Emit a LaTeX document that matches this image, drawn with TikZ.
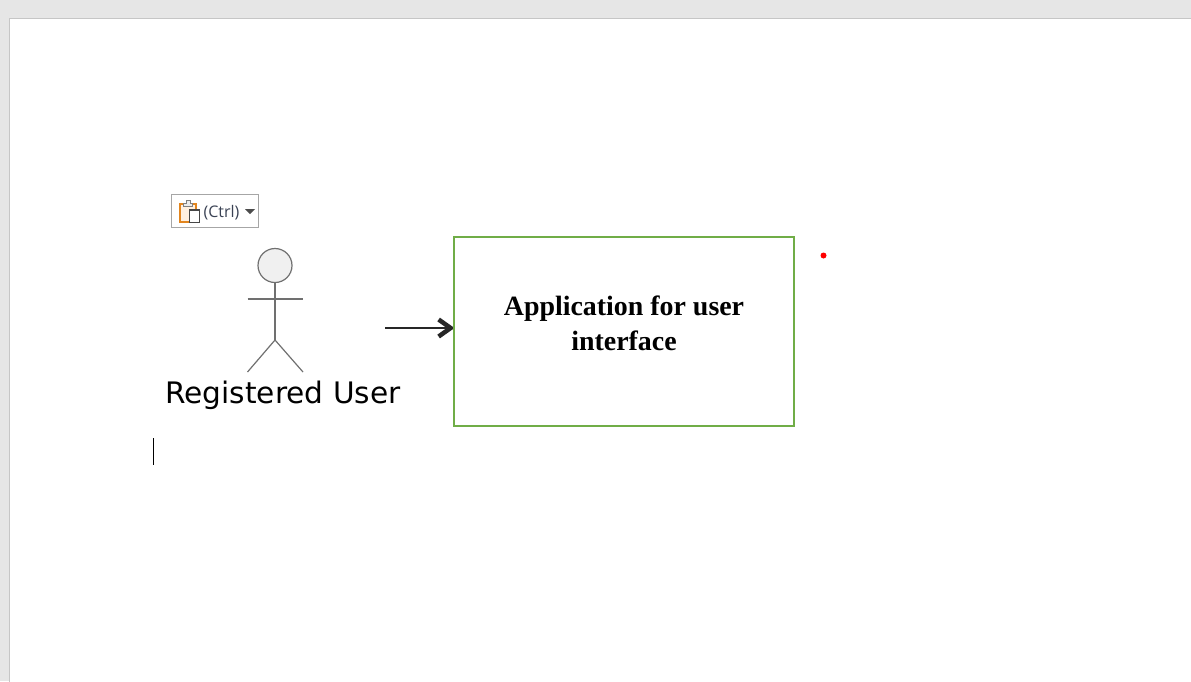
\documentclass[tikz,border=0pt]{standalone}
\usepackage{fontspec}
\setmainfont{Liberation Serif}
\newfontfamily\actorfont{DejaVu Sans}
\newfontfamily\pastefont{Open Sans}
\usetikzlibrary{arrows.meta, positioning}
\definecolor{pagegray}{RGB}{230,230,230}
\definecolor{pageedge}{RGB}{198,198,198}
\definecolor{boxgreen}{RGB}{112,173,71}
\definecolor{actorgray}{RGB}{112,112,112}
\definecolor{iconorange}{RGB}{226,133,30}
\definecolor{ctrlblue}{RGB}{58,66,84}

\begin{document}
\begin{tikzpicture}[x=1pt, y=-1pt]
    \tikzstyle{limb} = [draw=actorgray, line width=1.2pt];
    \tikzstyle{appbox} = [shape=rectangle, draw=boxgreen, line width=1.6pt, minimum width=340pt, minimum height=189pt, inner sep=0pt];

    \useasboundingbox (0,0) rectangle (1191,681);
    \fill[pagegray] (0,0) rectangle (1191,681);
    \fill[white, draw=pageedge, line width=1pt] (9.5,18.5) rectangle (1195,690);

    % paste button
    \node[draw=black!35, fill=white, line width=1pt, minimum width=87pt, minimum height=33pt, inner sep=0pt](Paste) at (215,211) {};
    \node[font=\pastefont\fontsize{16}{18}\selectfont, text=ctrlblue, inner sep=0pt](Ctrl) at (221.5,212.5) {(Ctrl)};
    \fill[black!70] (245,209) -- (255,209) -- (250,214) -- cycle;
    \draw[iconorange, line width=2.2pt, fill=orange!12] (180,204) rectangle (196,222);
    \draw[black!50, line width=1pt, fill=black!8] (183.5,206) -- (183.5,203) -- (186,203) -- (186,200) -- (190,200) -- (190,203) -- (192.5,203) -- (192.5,206) -- cycle;
    \draw[black!72, line width=1.6pt, fill=white] (189.5,210) rectangle (199.5,222.5);

    % stick figure
    \node[circle, draw=actorgray, fill=black!6, line width=1.2pt, minimum size=34pt, inner sep=0pt](Head) at (275,265.5) {};
    \coordinate (Hip) at (275,340);
    \coordinate (ArmL) at (247.5,299);
    \coordinate (ArmR) at (303,299);
    \coordinate (FootL) at (247.5,372);
    \coordinate (FootR) at (303,372);
    \draw[limb] (Head) -- (Hip);
    \draw[limb] (ArmL) -- (ArmR);
    \draw[limb] (FootL) -- (Hip) -- (FootR);
    \node[font=\actorfont\fontsize{29.6}{32}\selectfont, text=black, inner sep=0pt](Actor) at (283,395) {Registered User};

    \coordinate (Start) at (385,328);
    \coordinate (End) at (454.5,328);
    \draw[-{Straight Barb[length=12pt,width=17pt,line width=4.5pt]}, line width=2.8pt, draw=black!85] (Start) -- (End);

    \node[appbox](App) at (624,331.5) {};
    \node[font=\bfseries\fontsize{27.9}{35}\selectfont, align=center, inner sep=0pt](AppText) at (624,323.5) {Application for user\\interface};

    % caret and red dot
    \coordinate (CaretTop) at (153.5,438);
    \coordinate (CaretEnd) at (153.5,465);
    \draw[black, line width=1pt] (CaretTop) -- (CaretEnd);
    \node[circle, fill=red, minimum size=6pt, inner sep=0pt](Dot) at (823.5,255.5) {};
\end{tikzpicture}
\end{document}
